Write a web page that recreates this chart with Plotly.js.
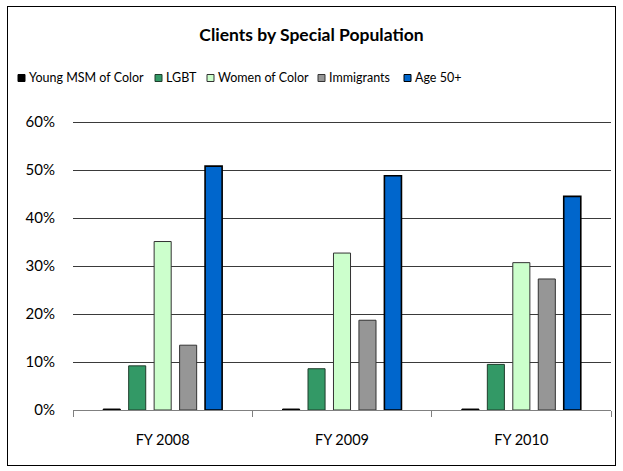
<!DOCTYPE html>
<html>
<head>
<meta charset="utf-8">
<script src="https://cdn.plot.ly/plotly-3.0.1.min.js"></script>
<style>
  html, body { margin: 0; padding: 0; background: #fff; }
  #wrap { position: relative; width: 623px; height: 471px; overflow: hidden; }
  #chart { position: absolute; left: 0; top: 0; width: 623px; height: 471px; }
  #frame { position: absolute; left: 7px; top: 6px; width: 607px; height: 458px; border: 1px solid #000; pointer-events: none; }
</style>
</head>
<body>
<div id="wrap">
  <div id="chart"></div>
  <div id="frame"></div>
</div>
<script>
const categories = ['FY 2008', 'FY 2009', 'FY 2010'];
const seriesNames = ['Young MSM of Color', 'LGBT', 'Women of Color', 'Immigrants', 'Age 50+'];
const youngMSM = [0.002, 0.002, 0.002];
const lgbt = [0.092, 0.086, 0.095];
const womenOfColor = [0.351, 0.327, 0.307];
const immigrants = [0.135, 0.187, 0.273];
const age50 = [0.508, 0.488, 0.445];
const yTickVals = [0, 0.1, 0.2, 0.3, 0.4, 0.5, 0.6];
const yTickText = ['0%', '10%', '20%', '30%', '40%', '50%', '60%'];

const seriesValues = [youngMSM, lgbt, womenOfColor, immigrants, age50];
const fills = ['#000000', '#339966', '#CCFFCC', '#969696', '#0066CC'];
const outlines = ['#000000', '#1f3d2b', '#333333', '#333333', '#000000'];
const outlineWidths = [1, 1, 1, 1, 1.6];

const FONT = 'Lato, "Liberation Sans", sans-serif';

// plot-area geometry (pixels); y range is padded slightly so the 60% gridline is drawn
const W = 623, H = 471;
const M = { l: 73, r: 12, t: 120, b: 61 };
const PW = W - M.l - M.r, PH = H - M.t - M.b;
const yTop = 0.6042;
const px2x = px => (px - M.l) / PW;
const py2y = py => (H - M.b - py) / PH;

// legend layout (pixel left edge of each swatch), centre line
const legendSwatchX = [18, 155, 207, 318, 404];
const legendY = 78, swatch = 7, swatchGap = 3;

const traces = seriesNames.map((name, i) => ({
  type: 'bar',
  name: name,
  x: categories,
  y: seriesValues[i],
  marker: { color: fills[i], line: { color: outlines[i], width: outlineWidths[i] } },
  hoverinfo: 'x+y+name',
  showlegend: false
}));

const shapes = seriesNames.map((name, i) => ({
  type: 'rect', xref: 'paper', yref: 'paper',
  x0: px2x(legendSwatchX[i]), x1: px2x(legendSwatchX[i] + swatch),
  y0: py2y(legendY + swatch / 2), y1: py2y(legendY - swatch / 2),
  fillcolor: fills[i], line: { color: outlines[i], width: 1 }, layer: 'above'
}));

const annotations = seriesNames.map((name, i) => ({
  text: name, showarrow: false, xref: 'paper', yref: 'paper',
  x: px2x(legendSwatchX[i] + swatch + swatchGap), xanchor: 'left',
  y: py2y(legendY), yanchor: 'middle',
  font: { family: FONT, size: 12.5, color: '#000000' },
  borderpad: 0
}));

const layout = {
  width: W,
  height: H,
  paper_bgcolor: '#ffffff',
  plot_bgcolor: '#ffffff',
  margin: { l: M.l, r: M.r, t: M.t, b: M.b, autoexpand: false },
  font: { family: FONT, color: '#000000', size: 14 },
  title: {
    text: '<b>Clients by Special Population</b>',
    font: { family: FONT, size: 17.5, color: '#000000' },
    x: 0.5, xref: 'container', xanchor: 'center',
    y: 0.926, yref: 'container', yanchor: 'middle'
  },
  barmode: 'group',
  bargap: 0.29,
  bargroupgap: 0.33,
  showlegend: false,
  shapes: shapes,
  annotations: annotations,
  xaxis: {
    type: 'category',
    showgrid: false,
    showline: true, linecolor: '#808080', linewidth: 1,
    ticks: 'outside', tickson: 'boundaries', ticklen: 6, tickcolor: '#808080', tickwidth: 1,
    tickfont: { family: FONT, size: 14.5, color: '#000000' },
    ticklabelstandoff: 17,
    zeroline: false, fixedrange: true
  },
  yaxis: {
    range: [0, yTop],
    tickvals: yTickVals,
    ticktext: yTickText,
    showgrid: true, gridcolor: '#3a3a3a', gridwidth: 1,
    showline: false, zeroline: false, ticks: '',
    tickfont: { family: FONT, size: 15, color: '#000000' },
    ticklabelstandoff: 17,
    fixedrange: true
  }
};

Plotly.newPlot('chart', traces, layout, { displayModeBar: false, staticPlot: true });
</script>
</body>
</html>
